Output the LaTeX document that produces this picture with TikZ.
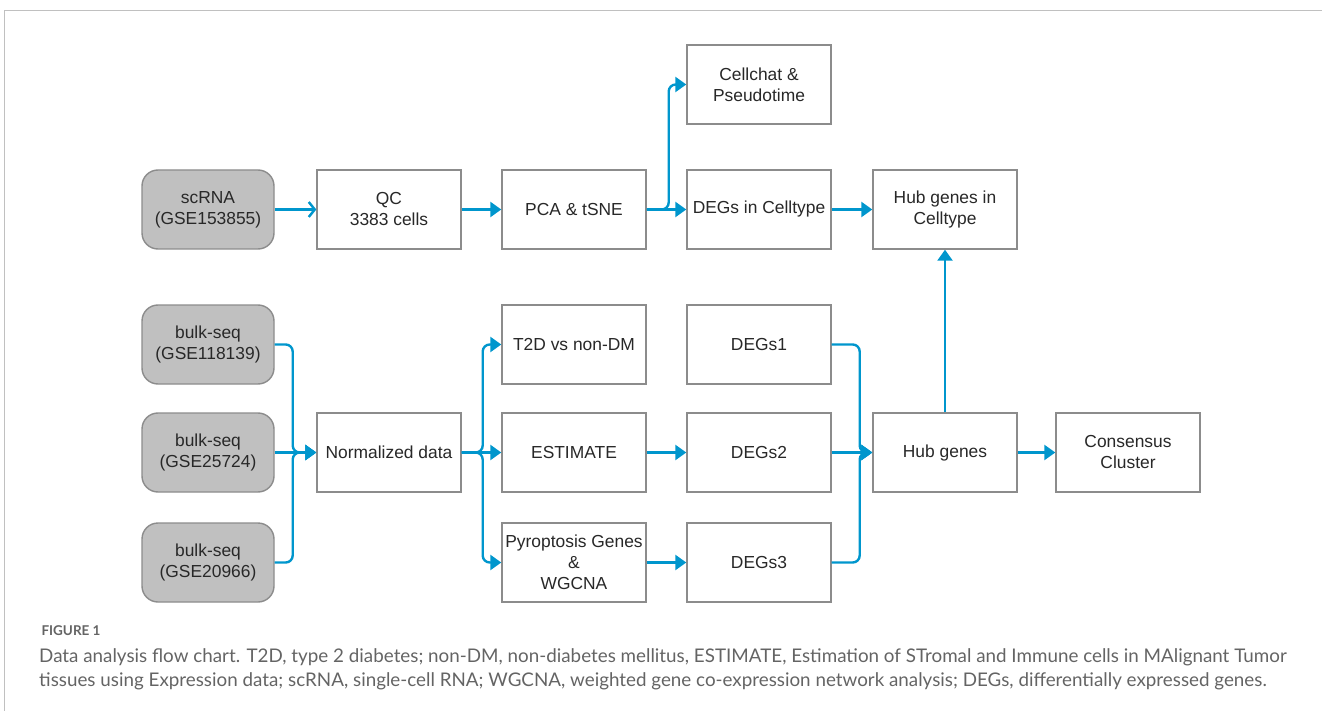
\documentclass[tikz,border=0pt]{standalone}
\usepackage{fontspec}
\setmainfont{Liberation Sans}
\newfontfamily\capfont{Lato}
\usetikzlibrary{arrows.meta,positioning}
\definecolor{flowblue}{RGB}{0,150,205}
\definecolor{boxgray}{RGB}{140,140,140}
\definecolor{inputgray}{RGB}{192,192,192}
\definecolor{textgray}{RGB}{40,40,40}
\definecolor{capgray}{RGB}{100,100,100}

\begin{document}
\begin{tikzpicture}[x=1pt,y=-1pt,
    box/.style={draw=boxgray, line width=1.4pt, fill=white, minimum width=144pt,
      minimum height=79pt, align=center, text=textgray, font=\fontsize{17.4}{21}\selectfont,
      inner sep=2pt},
    inputbox/.style={box, fill=inputgray, rounded corners=16pt, minimum width=132pt},
    flow/.style={draw=flowblue, line width=2.4pt, rounded corners=7pt,
      -{Triangle[length=11pt,width=15pt]}},
    openflow/.style={flow, -{Straight Barb[length=6pt,width=15pt]}}]
  \useasboundingbox (0,0) rectangle (1322,711);
  % frame
  \draw[inputgray, line width=1pt] (4,711) -- (4,11) -- (1322,11);

  % single cell branch
  \node[inputbox] (scrna) at (208,209.5) {scRNA\\(GSE153855)};
  \node[box] (qc) at (389,209.5) {QC\\3383 cells};
  \node[box] (pca) at (574,209.5) {PCA \& tSNE};
  \node[box] (chat) at (759,84.5) {Cellchat \&\\Pseudotime};
  \node[box] (degcell) at (759,209.5) {DEGs in Celltype};
  \node[box] (hubcell) at (945,209.5) {Hub genes in\\Celltype};

  % bulk branch
  \node[inputbox] (bulkA) at (208,344.5) {bulk-seq\\(GSE118139)};
  \node[inputbox] (bulkB) at (208,452.5) {bulk-seq\\(GSE25724)};
  \node[inputbox] (bulkC) at (208,562.5) {bulk-seq\\(GSE20966)};
  \node[box] (norm) at (389,452.5) {Normalized data};
  \node[box] (t2d) at (574,344.5) {T2D vs non-DM};
  \node[box] (est) at (574,452.5) {ESTIMATE};
  \node[box] (pyro) at (574,562.5) {Pyroptosis Genes\\\&\\WGCNA};
  \node[box] (degA) at (759,344.5) {DEGs1};
  \node[box] (degB) at (759,452.5) {DEGs2};
  \node[box] (degC) at (759,562.5) {DEGs3};
  \node[box] (hub) at (945,452.5) {Hub genes};
  \node[box] (cons) at (1128,452.5) {Consensus\\Cluster};

  % connectors
  \draw[openflow] (scrna) -- (qc);
  \draw[flow] (qc) -- (pca);
  \draw[flow] (pca) -- (degcell);
  \draw[flow] (pca.east) -- ++(22,0) |- (chat.west);
  \draw[flow] (degcell) -- (hubcell);
  \draw[flow] (hub) -- (hubcell);

  \draw[flow] (bulkA.east) -- ++(18,0) |- (norm.west);
  \draw[flow] (bulkB) -- (norm);
  \draw[flow] (bulkC.east) -- ++(18,0) |- (norm.west);
  \draw[flow] (norm.east) -- ++(21,0) |- (t2d.west);
  \draw[flow] (norm) -- (est);
  \draw[flow] (norm.east) -- ++(21,0) |- (pyro.west);
  \draw[flow] (est) -- (degB);
  \draw[flow] (pyro) -- (degC);
  \draw[flow] (degA.east) -- ++(28,0) |- (hub.west);
  \draw[flow] (degB) -- (hub);
  \draw[flow] (degC.east) -- ++(28,0) |- (hub.west);
  \draw[flow] (hub) -- (cons);

  % caption
  \node[anchor=west, text=capgray, font=\capfont\bfseries\fontsize{13.5}{16}\selectfont] (figlabel)
    at (38,631) {FIGURE 1};
  \node[anchor=north west, text=capgray, align=left, inner sep=0pt,
    font=\capfont\fontsize{18.8}{24.2}\selectfont] (caption) at (39,648)
    {Data analysis flow chart. T2D, type 2 diabetes; non-DM, non-diabetes mellitus, ESTIMATE, Estimation of STromal and Immune cells in MAlignant Tumor\\
     tissues using Expression data; scRNA, single-cell RNA; WGCNA, weighted gene co-expression network analysis; DEGs, differentially expressed genes.};
\end{tikzpicture}
\end{document}
